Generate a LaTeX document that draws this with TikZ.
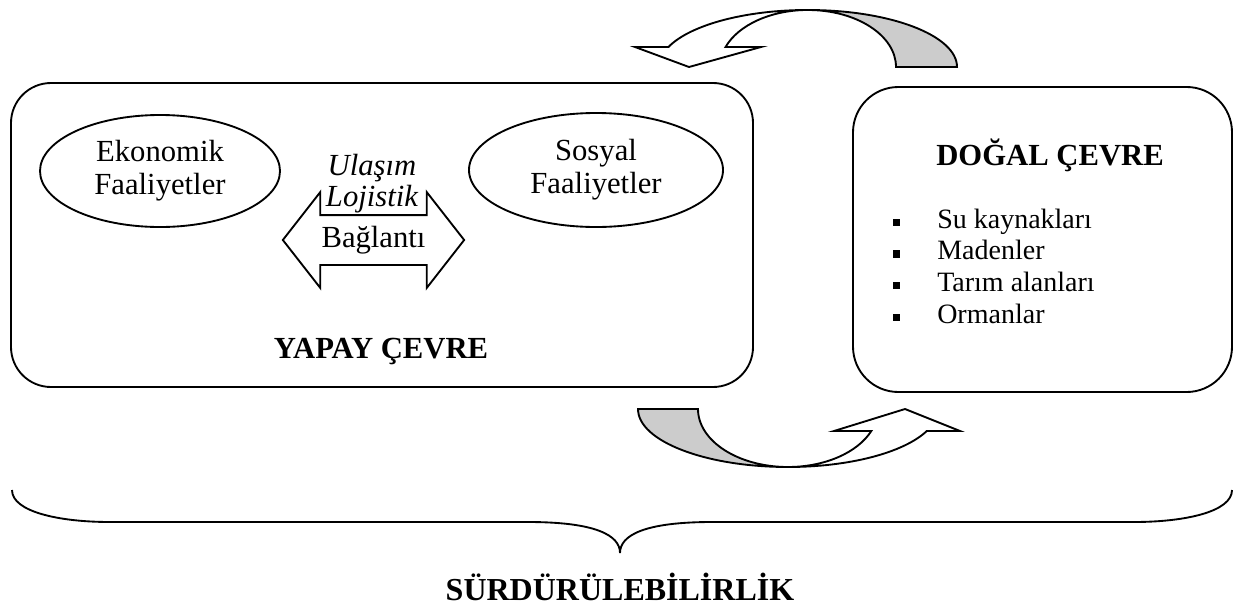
\documentclass[tikz,border=0pt]{standalone}
\usepackage{fontspec}
\setmainfont{Liberation Serif}
\usetikzlibrary{shapes, arrows.meta, positioning}
\usepackage{xcolor}
\definecolor{TailGray}{RGB}{204,204,204}
\newcommand{\madde}{\rule[1.5pt]{5.25pt}{5.5pt}\hspace{27.75pt}}

\begin{document}
\begin{tikzpicture}[x=0.75pt, y=-0.75pt,
          panel/.style={rectangle, draw, line width=1.4pt, rounded corners=30pt, inner sep=0pt},
          bubble/.style={ellipse, draw, line width=1.4pt, inner sep=0pt, align=center, font=\fontsize{23}{24.75}\selectfont},
          heading/.style={anchor=base, inner sep=0pt, font=\bfseries\fontsize{23}{27}\selectfont},
          listitem/.style={anchor=base west, inner sep=0pt, font=\fontsize{21}{24}\selectfont},
          ribbon/.style={draw, line width=1.4pt, line join=miter, fill=white},
          twist/.style={draw, line width=1.4pt, fill=TailGray}
        ]
          \useasboundingbox (0,0) rectangle (1237,607);

          % the two environments
          \node (yapay) [panel, minimum width=556.5pt, minimum height=228pt] at (382,235) {};
          \node (dogal) [panel, rounded corners=34pt, minimum width=284.25pt, minimum height=228.75pt] at (1042.5,239.5) {};

          \node (ekonomik) [bubble, minimum width=180pt, minimum height=84pt] at (160,171) {Ekonomik\\Faaliyetler};
          \node (sosyal) [bubble, minimum width=190.5pt, minimum height=85.5pt] at (596,170) {Sosyal\\Faaliyetler};
          \node (baglanti) [double arrow, draw, line width=1.4pt, fill=white, double arrow tip angle=104, double arrow head extend=17.25pt, minimum height=136pt, inner xsep=0pt, inner ysep=7.5pt, text height=16pt, text depth=5pt, font=\fontsize{23}{24}\selectfont] at (373.5,240) {Bağlantı};
          \node (ulasim) [align=center, inner sep=0pt, font=\itshape\fontsize{23}{23.25}\selectfont] at (372,184) {Ulaşım\\Lojistik};

          \node (yapaybaslik) [heading] at (381,358) {YAPAY ÇEVRE};
          \node (dogalbaslik) [heading] at (1050,165) {DOĞAL ÇEVRE};
          \foreach \ad [count=\i from 0] in {Su kaynakları, Madenler, Tarım alanları, Ormanlar}
            \node (madde\i) [listitem] at (893,{228+31.7*\i}) {\madde\ad};

          % curved arrows between the boxes
          \draw [twist] (808,10) arc[start angle=270, end angle=360, x radius=149, y radius=57] -- (896,67)
            arc[start angle=360, end angle=270, x radius=88, y radius=57] -- cycle;
          \draw [ribbon] (635,47) -- (668.43,47) arc[start angle=200.5, end angle=270, x radius=149, y radius=57]
            arc[start angle=270, end angle=200.5, x radius=88, y radius=57] -- (761,47) -- (689,67) -- cycle;

          \draw [twist] (638,409) -- (698,409) arc[start angle=180, end angle=90, x radius=90, y radius=58]
            arc[start angle=90, end angle=180, x radius=150, y radius=58] -- cycle;
          \draw [ribbon] (788,467) arc[start angle=90, end angle=22.3, x radius=150, y radius=58] -- (960,431) -- (905,409)
            -- (834,431) -- (871.3,431) arc[start angle=22.3, end angle=90, x radius=90, y radius=58] -- cycle;

          % brace
          \draw [line width=1.4pt] (12,490) .. controls (12,512) and (60,522) .. (110,522) -- (528,522)
            .. controls (595,522) and (620,535) .. (620,553) .. controls (620,535) and (645,522) .. (712,522)
            -- (1134,522) .. controls (1184,522) and (1232,512) .. (1232,490);
          \node (surdurulebilirlik) [heading, font=\bfseries\fontsize{24}{28}\selectfont] at (620,600) {SÜRDÜRÜLEBİLİRLİK};
        \end{tikzpicture}
\end{document}
